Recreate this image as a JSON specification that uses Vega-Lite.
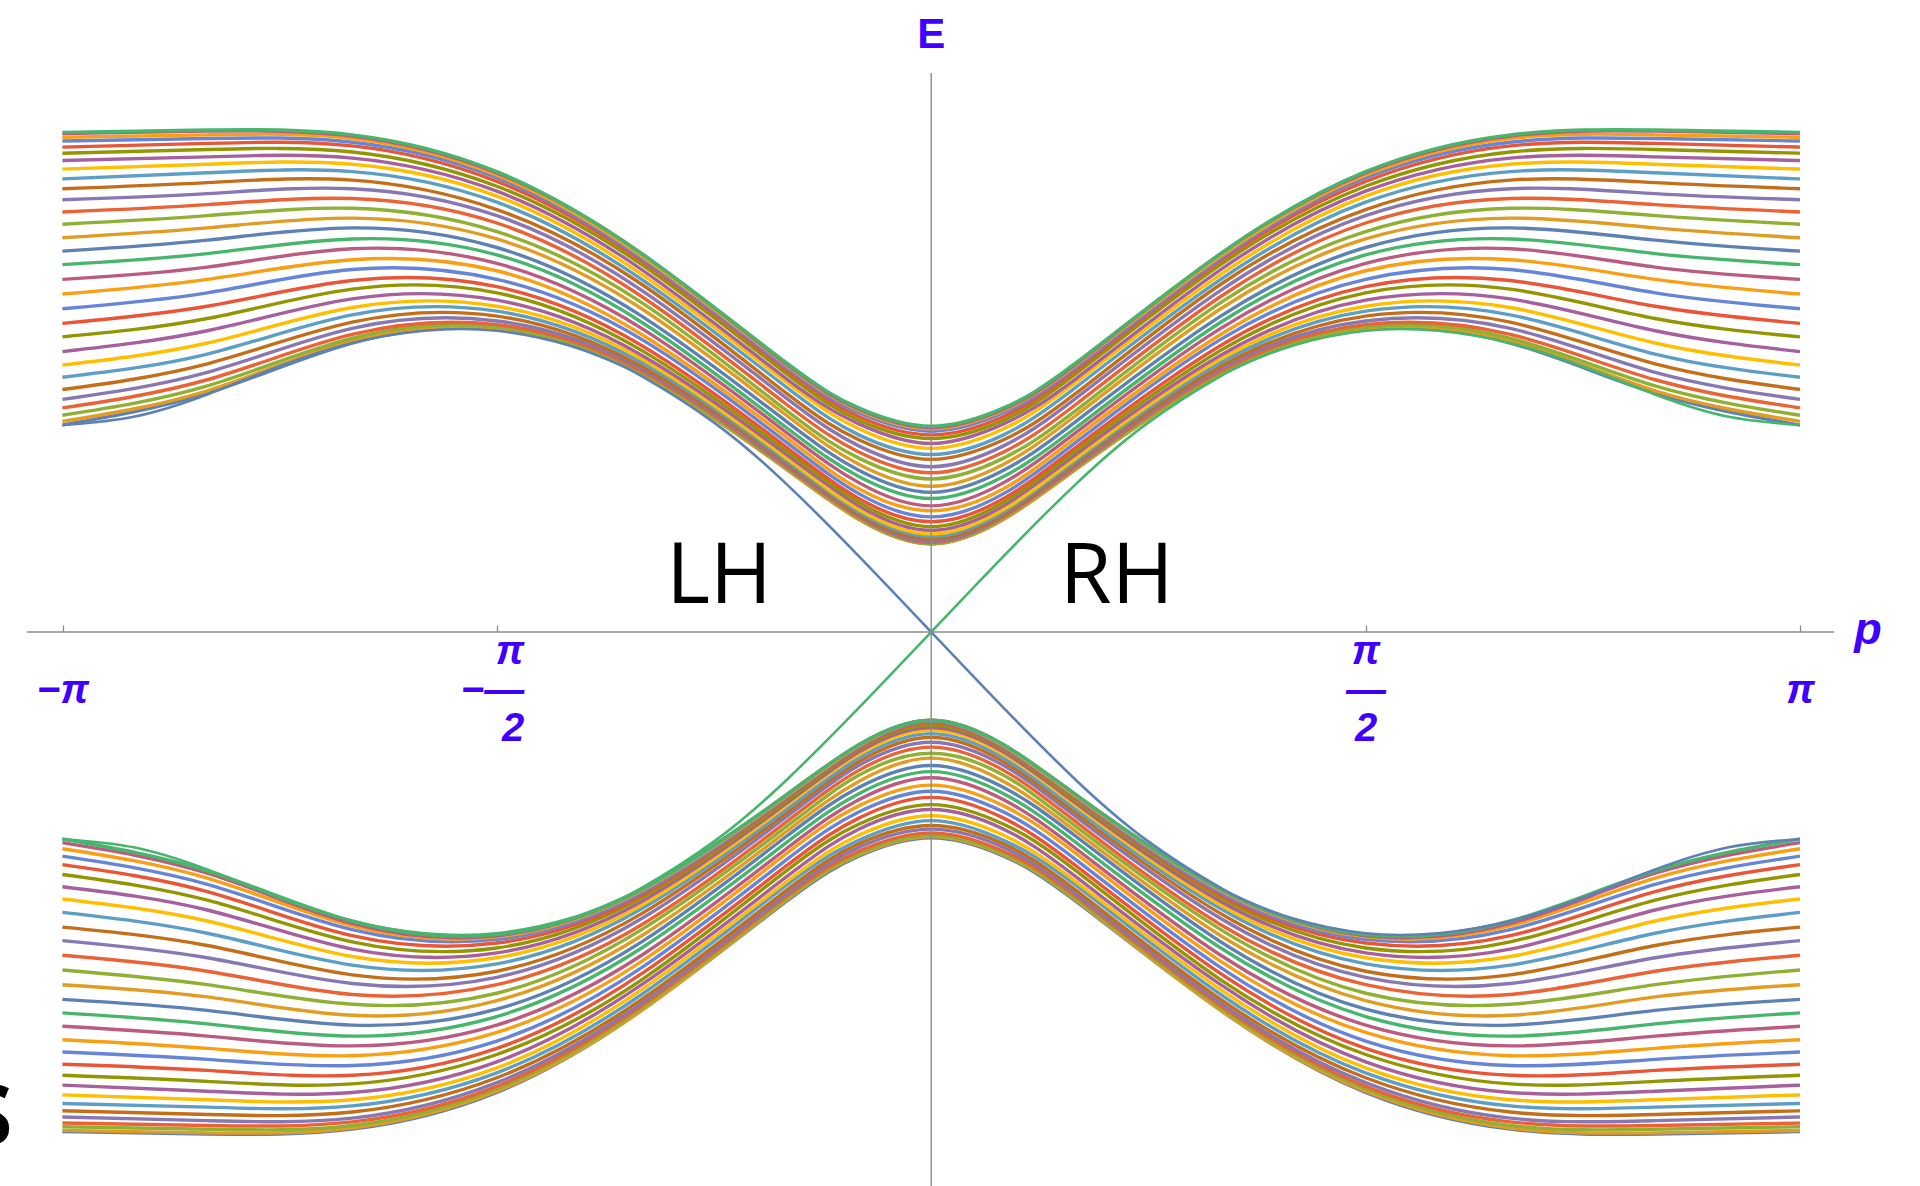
{
"$schema":"https://vega.github.io/schema/vega-lite/v6.json",
"width":1807,"height":1113,"autosize":"none",
"padding":{"left":27,"top":73,"right":86,"bottom":0},
"background":"white",
"config":{"view":{"stroke":null}},
"datasets":{
"upper":[
{"n":1,"p":-3.142,"E":1.69},{"n":1,"p":-2.618,"E":1.95},{"n":1,"p":-2.094,"E":2.36},{"n":1,"p":-1.571,"E":2.47},{"n":1,"p":-1.047,"E":2.1},{"n":1,"p":-0.524,"E":1.33},{"n":1,"p":-0.262,"E":0.92},{"n":1,"p":0,"E":0.72},{"n":1,"p":0.262,"E":0.92},{"n":1,"p":0.524,"E":1.33},{"n":1,"p":1.047,"E":2.1},{"n":1,"p":1.571,"E":2.47},{"n":1,"p":2.094,"E":2.36},{"n":1,"p":2.618,"E":1.95},{"n":1,"p":3.142,"E":1.69},
{"n":2,"p":-3.142,"E":1.72},{"n":2,"p":-2.618,"E":1.97},{"n":2,"p":-2.094,"E":2.38},{"n":2,"p":-1.571,"E":2.48},{"n":2,"p":-1.047,"E":2.1},{"n":2,"p":-0.524,"E":1.33},{"n":2,"p":-0.262,"E":0.92},{"n":2,"p":0,"E":0.72},{"n":2,"p":0.262,"E":0.92},{"n":2,"p":0.524,"E":1.33},{"n":2,"p":1.047,"E":2.1},{"n":2,"p":1.571,"E":2.48},{"n":2,"p":2.094,"E":2.38},{"n":2,"p":2.618,"E":1.97},{"n":2,"p":3.142,"E":1.72},
{"n":3,"p":-3.142,"E":1.77},{"n":3,"p":-2.618,"E":2.01},{"n":3,"p":-2.094,"E":2.4},{"n":3,"p":-1.571,"E":2.49},{"n":3,"p":-1.047,"E":2.11},{"n":3,"p":-0.524,"E":1.34},{"n":3,"p":-0.262,"E":0.93},{"n":3,"p":0,"E":0.72},{"n":3,"p":0.262,"E":0.93},{"n":3,"p":0.524,"E":1.34},{"n":3,"p":1.047,"E":2.11},{"n":3,"p":1.571,"E":2.49},{"n":3,"p":2.094,"E":2.4},{"n":3,"p":2.618,"E":2.01},{"n":3,"p":3.142,"E":1.77},
{"n":4,"p":-3.142,"E":1.83},{"n":4,"p":-2.618,"E":2.06},{"n":4,"p":-2.094,"E":2.43},{"n":4,"p":-1.571,"E":2.51},{"n":4,"p":-1.047,"E":2.13},{"n":4,"p":-0.524,"E":1.35},{"n":4,"p":-0.262,"E":0.94},{"n":4,"p":0,"E":0.73},{"n":4,"p":0.262,"E":0.94},{"n":4,"p":0.524,"E":1.35},{"n":4,"p":1.047,"E":2.13},{"n":4,"p":1.571,"E":2.51},{"n":4,"p":2.094,"E":2.43},{"n":4,"p":2.618,"E":2.06},{"n":4,"p":3.142,"E":1.83},
{"n":5,"p":-3.142,"E":1.9},{"n":5,"p":-2.618,"E":2.12},{"n":5,"p":-2.094,"E":2.48},{"n":5,"p":-1.571,"E":2.54},{"n":5,"p":-1.047,"E":2.15},{"n":5,"p":-0.524,"E":1.36},{"n":5,"p":-0.262,"E":0.95},{"n":5,"p":0,"E":0.74},{"n":5,"p":0.262,"E":0.95},{"n":5,"p":0.524,"E":1.36},{"n":5,"p":1.047,"E":2.15},{"n":5,"p":1.571,"E":2.54},{"n":5,"p":2.094,"E":2.48},{"n":5,"p":2.618,"E":2.12},{"n":5,"p":3.142,"E":1.9},
{"n":6,"p":-3.142,"E":1.98},{"n":6,"p":-2.618,"E":2.19},{"n":6,"p":-2.094,"E":2.53},{"n":6,"p":-1.571,"E":2.58},{"n":6,"p":-1.047,"E":2.17},{"n":6,"p":-0.524,"E":1.38},{"n":6,"p":-0.262,"E":0.96},{"n":6,"p":0,"E":0.76},{"n":6,"p":0.262,"E":0.96},{"n":6,"p":0.524,"E":1.38},{"n":6,"p":1.047,"E":2.17},{"n":6,"p":1.571,"E":2.58},{"n":6,"p":2.094,"E":2.53},{"n":6,"p":2.618,"E":2.19},{"n":6,"p":3.142,"E":1.98},
{"n":7,"p":-3.142,"E":2.08},{"n":7,"p":-2.618,"E":2.27},{"n":7,"p":-2.094,"E":2.59},{"n":7,"p":-1.571,"E":2.62},{"n":7,"p":-1.047,"E":2.2},{"n":7,"p":-0.524,"E":1.4},{"n":7,"p":-0.262,"E":0.98},{"n":7,"p":0,"E":0.78},{"n":7,"p":0.262,"E":0.98},{"n":7,"p":0.524,"E":1.4},{"n":7,"p":1.047,"E":2.2},{"n":7,"p":1.571,"E":2.62},{"n":7,"p":2.094,"E":2.59},{"n":7,"p":2.618,"E":2.27},{"n":7,"p":3.142,"E":2.08},
{"n":8,"p":-3.142,"E":2.18},{"n":8,"p":-2.618,"E":2.36},{"n":8,"p":-2.094,"E":2.65},{"n":8,"p":-1.571,"E":2.66},{"n":8,"p":-1.047,"E":2.23},{"n":8,"p":-0.524,"E":1.42},{"n":8,"p":-0.262,"E":1},{"n":8,"p":0,"E":0.8},{"n":8,"p":0.262,"E":1},{"n":8,"p":0.524,"E":1.42},{"n":8,"p":1.047,"E":2.23},{"n":8,"p":1.571,"E":2.66},{"n":8,"p":2.094,"E":2.65},{"n":8,"p":2.618,"E":2.36},{"n":8,"p":3.142,"E":2.18},
{"n":9,"p":-3.142,"E":2.29},{"n":9,"p":-2.618,"E":2.46},{"n":9,"p":-2.094,"E":2.72},{"n":9,"p":-1.571,"E":2.71},{"n":9,"p":-1.047,"E":2.26},{"n":9,"p":-0.524,"E":1.45},{"n":9,"p":-0.262,"E":1.03},{"n":9,"p":0,"E":0.83},{"n":9,"p":0.262,"E":1.03},{"n":9,"p":0.524,"E":1.45},{"n":9,"p":1.047,"E":2.26},{"n":9,"p":1.571,"E":2.71},{"n":9,"p":2.094,"E":2.72},{"n":9,"p":2.618,"E":2.46},{"n":9,"p":3.142,"E":2.29},
{"n":10,"p":-3.142,"E":2.41},{"n":10,"p":-2.618,"E":2.56},{"n":10,"p":-2.094,"E":2.8},{"n":10,"p":-1.571,"E":2.77},{"n":10,"p":-1.047,"E":2.3},{"n":10,"p":-0.524,"E":1.48},{"n":10,"p":-0.262,"E":1.06},{"n":10,"p":0,"E":0.86},{"n":10,"p":0.262,"E":1.06},{"n":10,"p":0.524,"E":1.48},{"n":10,"p":1.047,"E":2.3},{"n":10,"p":1.571,"E":2.77},{"n":10,"p":2.094,"E":2.8},{"n":10,"p":2.618,"E":2.56},{"n":10,"p":3.142,"E":2.41},
{"n":11,"p":-3.142,"E":2.52},{"n":11,"p":-2.618,"E":2.66},{"n":11,"p":-2.094,"E":2.87},{"n":11,"p":-1.571,"E":2.82},{"n":11,"p":-1.047,"E":2.34},{"n":11,"p":-0.524,"E":1.51},{"n":11,"p":-0.262,"E":1.09},{"n":11,"p":0,"E":0.9},{"n":11,"p":0.262,"E":1.09},{"n":11,"p":0.524,"E":1.51},{"n":11,"p":1.047,"E":2.34},{"n":11,"p":1.571,"E":2.82},{"n":11,"p":2.094,"E":2.87},{"n":11,"p":2.618,"E":2.66},{"n":11,"p":3.142,"E":2.52},
{"n":12,"p":-3.142,"E":2.64},{"n":12,"p":-2.618,"E":2.77},{"n":12,"p":-2.094,"E":2.96},{"n":12,"p":-1.571,"E":2.88},{"n":12,"p":-1.047,"E":2.39},{"n":12,"p":-0.524,"E":1.55},{"n":12,"p":-0.262,"E":1.13},{"n":12,"p":0,"E":0.94},{"n":12,"p":0.262,"E":1.13},{"n":12,"p":0.524,"E":1.55},{"n":12,"p":1.047,"E":2.39},{"n":12,"p":1.571,"E":2.88},{"n":12,"p":2.094,"E":2.96},{"n":12,"p":2.618,"E":2.77},{"n":12,"p":3.142,"E":2.64},
{"n":13,"p":-3.142,"E":2.76},{"n":13,"p":-2.618,"E":2.88},{"n":13,"p":-2.094,"E":3.04},{"n":13,"p":-1.571,"E":2.95},{"n":13,"p":-1.047,"E":2.43},{"n":13,"p":-0.524,"E":1.59},{"n":13,"p":-0.262,"E":1.17},{"n":13,"p":0,"E":0.99},{"n":13,"p":0.262,"E":1.17},{"n":13,"p":0.524,"E":1.59},{"n":13,"p":1.047,"E":2.43},{"n":13,"p":1.571,"E":2.95},{"n":13,"p":2.094,"E":3.04},{"n":13,"p":2.618,"E":2.88},{"n":13,"p":3.142,"E":2.76},
{"n":14,"p":-3.142,"E":2.88},{"n":14,"p":-2.618,"E":2.98},{"n":14,"p":-2.094,"E":3.13},{"n":14,"p":-1.571,"E":3.01},{"n":14,"p":-1.047,"E":2.48},{"n":14,"p":-0.524,"E":1.63},{"n":14,"p":-0.262,"E":1.22},{"n":14,"p":0,"E":1.03},{"n":14,"p":0.262,"E":1.22},{"n":14,"p":0.524,"E":1.63},{"n":14,"p":1.047,"E":2.48},{"n":14,"p":1.571,"E":3.01},{"n":14,"p":2.094,"E":3.13},{"n":14,"p":2.618,"E":2.98},{"n":14,"p":3.142,"E":2.88},
{"n":15,"p":-3.142,"E":3},{"n":15,"p":-2.618,"E":3.09},{"n":15,"p":-2.094,"E":3.21},{"n":15,"p":-1.571,"E":3.08},{"n":15,"p":-1.047,"E":2.53},{"n":15,"p":-0.524,"E":1.67},{"n":15,"p":-0.262,"E":1.27},{"n":15,"p":0,"E":1.09},{"n":15,"p":0.262,"E":1.27},{"n":15,"p":0.524,"E":1.67},{"n":15,"p":1.047,"E":2.53},{"n":15,"p":1.571,"E":3.08},{"n":15,"p":2.094,"E":3.21},{"n":15,"p":2.618,"E":3.09},{"n":15,"p":3.142,"E":3},
{"n":16,"p":-3.142,"E":3.11},{"n":16,"p":-2.618,"E":3.2},{"n":16,"p":-2.094,"E":3.3},{"n":16,"p":-1.571,"E":3.14},{"n":16,"p":-1.047,"E":2.58},{"n":16,"p":-0.524,"E":1.72},{"n":16,"p":-0.262,"E":1.32},{"n":16,"p":0,"E":1.14},{"n":16,"p":0.262,"E":1.32},{"n":16,"p":0.524,"E":1.72},{"n":16,"p":1.047,"E":2.58},{"n":16,"p":1.571,"E":3.14},{"n":16,"p":2.094,"E":3.3},{"n":16,"p":2.618,"E":3.2},{"n":16,"p":3.142,"E":3.11},
{"n":17,"p":-3.142,"E":3.22},{"n":17,"p":-2.618,"E":3.3},{"n":17,"p":-2.094,"E":3.38},{"n":17,"p":-1.571,"E":3.21},{"n":17,"p":-1.047,"E":2.64},{"n":17,"p":-0.524,"E":1.77},{"n":17,"p":-0.262,"E":1.37},{"n":17,"p":0,"E":1.19},{"n":17,"p":0.262,"E":1.37},{"n":17,"p":0.524,"E":1.77},{"n":17,"p":1.047,"E":2.64},{"n":17,"p":1.571,"E":3.21},{"n":17,"p":2.094,"E":3.38},{"n":17,"p":2.618,"E":3.3},{"n":17,"p":3.142,"E":3.22},
{"n":18,"p":-3.142,"E":3.33},{"n":18,"p":-2.618,"E":3.4},{"n":18,"p":-2.094,"E":3.46},{"n":18,"p":-1.571,"E":3.27},{"n":18,"p":-1.047,"E":2.69},{"n":18,"p":-0.524,"E":1.81},{"n":18,"p":-0.262,"E":1.42},{"n":18,"p":0,"E":1.25},{"n":18,"p":0.262,"E":1.42},{"n":18,"p":0.524,"E":1.81},{"n":18,"p":1.047,"E":2.69},{"n":18,"p":1.571,"E":3.27},{"n":18,"p":2.094,"E":3.46},{"n":18,"p":2.618,"E":3.4},{"n":18,"p":3.142,"E":3.33},
{"n":19,"p":-3.142,"E":3.43},{"n":19,"p":-2.618,"E":3.49},{"n":19,"p":-2.094,"E":3.54},{"n":19,"p":-1.571,"E":3.34},{"n":19,"p":-1.047,"E":2.74},{"n":19,"p":-0.524,"E":1.86},{"n":19,"p":-0.262,"E":1.47},{"n":19,"p":0,"E":1.3},{"n":19,"p":0.262,"E":1.47},{"n":19,"p":0.524,"E":1.86},{"n":19,"p":1.047,"E":2.74},{"n":19,"p":1.571,"E":3.34},{"n":19,"p":2.094,"E":3.54},{"n":19,"p":2.618,"E":3.49},{"n":19,"p":3.142,"E":3.43},
{"n":20,"p":-3.142,"E":3.53},{"n":20,"p":-2.618,"E":3.58},{"n":20,"p":-2.094,"E":3.62},{"n":20,"p":-1.571,"E":3.4},{"n":20,"p":-1.047,"E":2.79},{"n":20,"p":-0.524,"E":1.91},{"n":20,"p":-0.262,"E":1.52},{"n":20,"p":0,"E":1.35},{"n":20,"p":0.262,"E":1.52},{"n":20,"p":0.524,"E":1.91},{"n":20,"p":1.047,"E":2.79},{"n":20,"p":1.571,"E":3.4},{"n":20,"p":2.094,"E":3.62},{"n":20,"p":2.618,"E":3.58},{"n":20,"p":3.142,"E":3.53},
{"n":21,"p":-3.142,"E":3.62},{"n":21,"p":-2.618,"E":3.67},{"n":21,"p":-2.094,"E":3.69},{"n":21,"p":-1.571,"E":3.45},{"n":21,"p":-1.047,"E":2.84},{"n":21,"p":-0.524,"E":1.95},{"n":21,"p":-0.262,"E":1.57},{"n":21,"p":0,"E":1.41},{"n":21,"p":0.262,"E":1.57},{"n":21,"p":0.524,"E":1.95},{"n":21,"p":1.047,"E":2.84},{"n":21,"p":1.571,"E":3.45},{"n":21,"p":2.094,"E":3.69},{"n":21,"p":2.618,"E":3.67},{"n":21,"p":3.142,"E":3.62},
{"n":22,"p":-3.142,"E":3.7},{"n":22,"p":-2.618,"E":3.75},{"n":22,"p":-2.094,"E":3.76},{"n":22,"p":-1.571,"E":3.51},{"n":22,"p":-1.047,"E":2.88},{"n":22,"p":-0.524,"E":2},{"n":22,"p":-0.262,"E":1.61},{"n":22,"p":0,"E":1.45},{"n":22,"p":0.262,"E":1.61},{"n":22,"p":0.524,"E":2},{"n":22,"p":1.047,"E":2.88},{"n":22,"p":1.571,"E":3.51},{"n":22,"p":2.094,"E":3.76},{"n":22,"p":2.618,"E":3.75},{"n":22,"p":3.142,"E":3.7},
{"n":23,"p":-3.142,"E":3.78},{"n":23,"p":-2.618,"E":3.82},{"n":23,"p":-2.094,"E":3.82},{"n":23,"p":-1.571,"E":3.56},{"n":23,"p":-1.047,"E":2.92},{"n":23,"p":-0.524,"E":2.04},{"n":23,"p":-0.262,"E":1.66},{"n":23,"p":0,"E":1.5},{"n":23,"p":0.262,"E":1.66},{"n":23,"p":0.524,"E":2.04},{"n":23,"p":1.047,"E":2.92},{"n":23,"p":1.571,"E":3.56},{"n":23,"p":2.094,"E":3.82},{"n":23,"p":2.618,"E":3.82},{"n":23,"p":3.142,"E":3.78},
{"n":24,"p":-3.142,"E":3.85},{"n":24,"p":-2.618,"E":3.88},{"n":24,"p":-2.094,"E":3.87},{"n":24,"p":-1.571,"E":3.6},{"n":24,"p":-1.047,"E":2.96},{"n":24,"p":-0.524,"E":2.07},{"n":24,"p":-0.262,"E":1.7},{"n":24,"p":0,"E":1.54},{"n":24,"p":0.262,"E":1.7},{"n":24,"p":0.524,"E":2.07},{"n":24,"p":1.047,"E":2.96},{"n":24,"p":1.571,"E":3.6},{"n":24,"p":2.094,"E":3.87},{"n":24,"p":2.618,"E":3.88},{"n":24,"p":3.142,"E":3.85},
{"n":25,"p":-3.142,"E":3.91},{"n":25,"p":-2.618,"E":3.94},{"n":25,"p":-2.094,"E":3.92},{"n":25,"p":-1.571,"E":3.64},{"n":25,"p":-1.047,"E":3},{"n":25,"p":-0.524,"E":2.11},{"n":25,"p":-0.262,"E":1.73},{"n":25,"p":0,"E":1.58},{"n":25,"p":0.262,"E":1.73},{"n":25,"p":0.524,"E":2.11},{"n":25,"p":1.047,"E":3},{"n":25,"p":1.571,"E":3.64},{"n":25,"p":2.094,"E":3.92},{"n":25,"p":2.618,"E":3.94},{"n":25,"p":3.142,"E":3.91},
{"n":26,"p":-3.142,"E":3.96},{"n":26,"p":-2.618,"E":3.99},{"n":26,"p":-2.094,"E":3.97},{"n":26,"p":-1.571,"E":3.68},{"n":26,"p":-1.047,"E":3.03},{"n":26,"p":-0.524,"E":2.14},{"n":26,"p":-0.262,"E":1.76},{"n":26,"p":0,"E":1.61},{"n":26,"p":0.262,"E":1.76},{"n":26,"p":0.524,"E":2.14},{"n":26,"p":1.047,"E":3.03},{"n":26,"p":1.571,"E":3.68},{"n":26,"p":2.094,"E":3.97},{"n":26,"p":2.618,"E":3.99},{"n":26,"p":3.142,"E":3.96},
{"n":27,"p":-3.142,"E":4.01},{"n":27,"p":-2.618,"E":4.03},{"n":27,"p":-2.094,"E":4},{"n":27,"p":-1.571,"E":3.71},{"n":27,"p":-1.047,"E":3.05},{"n":27,"p":-0.524,"E":2.16},{"n":27,"p":-0.262,"E":1.79},{"n":27,"p":0,"E":1.64},{"n":27,"p":0.262,"E":1.79},{"n":27,"p":0.524,"E":2.16},{"n":27,"p":1.047,"E":3.05},{"n":27,"p":1.571,"E":3.71},{"n":27,"p":2.094,"E":4},{"n":27,"p":2.618,"E":4.03},{"n":27,"p":3.142,"E":4.01},
{"n":28,"p":-3.142,"E":4.04},{"n":28,"p":-2.618,"E":4.06},{"n":28,"p":-2.094,"E":4.03},{"n":28,"p":-1.571,"E":3.73},{"n":28,"p":-1.047,"E":3.07},{"n":28,"p":-0.524,"E":2.18},{"n":28,"p":-0.262,"E":1.81},{"n":28,"p":0,"E":1.66},{"n":28,"p":0.262,"E":1.81},{"n":28,"p":0.524,"E":2.18},{"n":28,"p":1.047,"E":3.07},{"n":28,"p":1.571,"E":3.73},{"n":28,"p":2.094,"E":4.03},{"n":28,"p":2.618,"E":4.06},{"n":28,"p":3.142,"E":4.04},
{"n":29,"p":-3.142,"E":4.07},{"n":29,"p":-2.618,"E":4.09},{"n":29,"p":-2.094,"E":4.05},{"n":29,"p":-1.571,"E":3.75},{"n":29,"p":-1.047,"E":3.09},{"n":29,"p":-0.524,"E":2.19},{"n":29,"p":-0.262,"E":1.82},{"n":29,"p":0,"E":1.67},{"n":29,"p":0.262,"E":1.82},{"n":29,"p":0.524,"E":2.19},{"n":29,"p":1.047,"E":3.09},{"n":29,"p":1.571,"E":3.75},{"n":29,"p":2.094,"E":4.05},{"n":29,"p":2.618,"E":4.09},{"n":29,"p":3.142,"E":4.07},
{"n":30,"p":-3.142,"E":4.08},{"n":30,"p":-2.618,"E":4.1},{"n":30,"p":-2.094,"E":4.06},{"n":30,"p":-1.571,"E":3.76},{"n":30,"p":-1.047,"E":3.09},{"n":30,"p":-0.524,"E":2.2},{"n":30,"p":-0.262,"E":1.83},{"n":30,"p":0,"E":1.68},{"n":30,"p":0.262,"E":1.83},{"n":30,"p":0.524,"E":2.2},{"n":30,"p":1.047,"E":3.09},{"n":30,"p":1.571,"E":3.76},{"n":30,"p":2.094,"E":4.06},{"n":30,"p":2.618,"E":4.1},{"n":30,"p":3.142,"E":4.08}
],
"lower":[
{"n":1,"p":-3.142,"E":-4.08},{"n":1,"p":-2.618,"E":-4.1},{"n":1,"p":-2.094,"E":-4.06},{"n":1,"p":-1.571,"E":-3.76},{"n":1,"p":-1.047,"E":-3.09},{"n":1,"p":-0.524,"E":-2.2},{"n":1,"p":-0.262,"E":-1.83},{"n":1,"p":0,"E":-1.68},{"n":1,"p":0.262,"E":-1.83},{"n":1,"p":0.524,"E":-2.2},{"n":1,"p":1.047,"E":-3.09},{"n":1,"p":1.571,"E":-3.76},{"n":1,"p":2.094,"E":-4.06},{"n":1,"p":2.618,"E":-4.1},{"n":1,"p":3.142,"E":-4.08},
{"n":2,"p":-3.142,"E":-4.07},{"n":2,"p":-2.618,"E":-4.09},{"n":2,"p":-2.094,"E":-4.05},{"n":2,"p":-1.571,"E":-3.75},{"n":2,"p":-1.047,"E":-3.09},{"n":2,"p":-0.524,"E":-2.19},{"n":2,"p":-0.262,"E":-1.82},{"n":2,"p":0,"E":-1.67},{"n":2,"p":0.262,"E":-1.82},{"n":2,"p":0.524,"E":-2.19},{"n":2,"p":1.047,"E":-3.09},{"n":2,"p":1.571,"E":-3.75},{"n":2,"p":2.094,"E":-4.05},{"n":2,"p":2.618,"E":-4.09},{"n":2,"p":3.142,"E":-4.07},
{"n":3,"p":-3.142,"E":-4.04},{"n":3,"p":-2.618,"E":-4.06},{"n":3,"p":-2.094,"E":-4.03},{"n":3,"p":-1.571,"E":-3.73},{"n":3,"p":-1.047,"E":-3.07},{"n":3,"p":-0.524,"E":-2.18},{"n":3,"p":-0.262,"E":-1.81},{"n":3,"p":0,"E":-1.66},{"n":3,"p":0.262,"E":-1.81},{"n":3,"p":0.524,"E":-2.18},{"n":3,"p":1.047,"E":-3.07},{"n":3,"p":1.571,"E":-3.73},{"n":3,"p":2.094,"E":-4.03},{"n":3,"p":2.618,"E":-4.06},{"n":3,"p":3.142,"E":-4.04},
{"n":4,"p":-3.142,"E":-4.01},{"n":4,"p":-2.618,"E":-4.03},{"n":4,"p":-2.094,"E":-4},{"n":4,"p":-1.571,"E":-3.71},{"n":4,"p":-1.047,"E":-3.05},{"n":4,"p":-0.524,"E":-2.16},{"n":4,"p":-0.262,"E":-1.79},{"n":4,"p":0,"E":-1.64},{"n":4,"p":0.262,"E":-1.79},{"n":4,"p":0.524,"E":-2.16},{"n":4,"p":1.047,"E":-3.05},{"n":4,"p":1.571,"E":-3.71},{"n":4,"p":2.094,"E":-4},{"n":4,"p":2.618,"E":-4.03},{"n":4,"p":3.142,"E":-4.01},
{"n":5,"p":-3.142,"E":-3.96},{"n":5,"p":-2.618,"E":-3.99},{"n":5,"p":-2.094,"E":-3.97},{"n":5,"p":-1.571,"E":-3.68},{"n":5,"p":-1.047,"E":-3.03},{"n":5,"p":-0.524,"E":-2.14},{"n":5,"p":-0.262,"E":-1.76},{"n":5,"p":0,"E":-1.61},{"n":5,"p":0.262,"E":-1.76},{"n":5,"p":0.524,"E":-2.14},{"n":5,"p":1.047,"E":-3.03},{"n":5,"p":1.571,"E":-3.68},{"n":5,"p":2.094,"E":-3.97},{"n":5,"p":2.618,"E":-3.99},{"n":5,"p":3.142,"E":-3.96},
{"n":6,"p":-3.142,"E":-3.91},{"n":6,"p":-2.618,"E":-3.94},{"n":6,"p":-2.094,"E":-3.92},{"n":6,"p":-1.571,"E":-3.64},{"n":6,"p":-1.047,"E":-3},{"n":6,"p":-0.524,"E":-2.11},{"n":6,"p":-0.262,"E":-1.73},{"n":6,"p":0,"E":-1.58},{"n":6,"p":0.262,"E":-1.73},{"n":6,"p":0.524,"E":-2.11},{"n":6,"p":1.047,"E":-3},{"n":6,"p":1.571,"E":-3.64},{"n":6,"p":2.094,"E":-3.92},{"n":6,"p":2.618,"E":-3.94},{"n":6,"p":3.142,"E":-3.91},
{"n":7,"p":-3.142,"E":-3.85},{"n":7,"p":-2.618,"E":-3.88},{"n":7,"p":-2.094,"E":-3.87},{"n":7,"p":-1.571,"E":-3.6},{"n":7,"p":-1.047,"E":-2.96},{"n":7,"p":-0.524,"E":-2.07},{"n":7,"p":-0.262,"E":-1.7},{"n":7,"p":0,"E":-1.54},{"n":7,"p":0.262,"E":-1.7},{"n":7,"p":0.524,"E":-2.07},{"n":7,"p":1.047,"E":-2.96},{"n":7,"p":1.571,"E":-3.6},{"n":7,"p":2.094,"E":-3.87},{"n":7,"p":2.618,"E":-3.88},{"n":7,"p":3.142,"E":-3.85},
{"n":8,"p":-3.142,"E":-3.78},{"n":8,"p":-2.618,"E":-3.82},{"n":8,"p":-2.094,"E":-3.82},{"n":8,"p":-1.571,"E":-3.56},{"n":8,"p":-1.047,"E":-2.92},{"n":8,"p":-0.524,"E":-2.04},{"n":8,"p":-0.262,"E":-1.66},{"n":8,"p":0,"E":-1.5},{"n":8,"p":0.262,"E":-1.66},{"n":8,"p":0.524,"E":-2.04},{"n":8,"p":1.047,"E":-2.92},{"n":8,"p":1.571,"E":-3.56},{"n":8,"p":2.094,"E":-3.82},{"n":8,"p":2.618,"E":-3.82},{"n":8,"p":3.142,"E":-3.78},
{"n":9,"p":-3.142,"E":-3.7},{"n":9,"p":-2.618,"E":-3.75},{"n":9,"p":-2.094,"E":-3.76},{"n":9,"p":-1.571,"E":-3.51},{"n":9,"p":-1.047,"E":-2.88},{"n":9,"p":-0.524,"E":-2},{"n":9,"p":-0.262,"E":-1.61},{"n":9,"p":0,"E":-1.45},{"n":9,"p":0.262,"E":-1.61},{"n":9,"p":0.524,"E":-2},{"n":9,"p":1.047,"E":-2.88},{"n":9,"p":1.571,"E":-3.51},{"n":9,"p":2.094,"E":-3.76},{"n":9,"p":2.618,"E":-3.75},{"n":9,"p":3.142,"E":-3.7},
{"n":10,"p":-3.142,"E":-3.62},{"n":10,"p":-2.618,"E":-3.67},{"n":10,"p":-2.094,"E":-3.69},{"n":10,"p":-1.571,"E":-3.45},{"n":10,"p":-1.047,"E":-2.84},{"n":10,"p":-0.524,"E":-1.95},{"n":10,"p":-0.262,"E":-1.57},{"n":10,"p":0,"E":-1.41},{"n":10,"p":0.262,"E":-1.57},{"n":10,"p":0.524,"E":-1.95},{"n":10,"p":1.047,"E":-2.84},{"n":10,"p":1.571,"E":-3.45},{"n":10,"p":2.094,"E":-3.69},{"n":10,"p":2.618,"E":-3.67},{"n":10,"p":3.142,"E":-3.62},
{"n":11,"p":-3.142,"E":-3.53},{"n":11,"p":-2.618,"E":-3.58},{"n":11,"p":-2.094,"E":-3.62},{"n":11,"p":-1.571,"E":-3.4},{"n":11,"p":-1.047,"E":-2.79},{"n":11,"p":-0.524,"E":-1.91},{"n":11,"p":-0.262,"E":-1.52},{"n":11,"p":0,"E":-1.35},{"n":11,"p":0.262,"E":-1.52},{"n":11,"p":0.524,"E":-1.91},{"n":11,"p":1.047,"E":-2.79},{"n":11,"p":1.571,"E":-3.4},{"n":11,"p":2.094,"E":-3.62},{"n":11,"p":2.618,"E":-3.58},{"n":11,"p":3.142,"E":-3.53},
{"n":12,"p":-3.142,"E":-3.43},{"n":12,"p":-2.618,"E":-3.49},{"n":12,"p":-2.094,"E":-3.54},{"n":12,"p":-1.571,"E":-3.34},{"n":12,"p":-1.047,"E":-2.74},{"n":12,"p":-0.524,"E":-1.86},{"n":12,"p":-0.262,"E":-1.47},{"n":12,"p":0,"E":-1.3},{"n":12,"p":0.262,"E":-1.47},{"n":12,"p":0.524,"E":-1.86},{"n":12,"p":1.047,"E":-2.74},{"n":12,"p":1.571,"E":-3.34},{"n":12,"p":2.094,"E":-3.54},{"n":12,"p":2.618,"E":-3.49},{"n":12,"p":3.142,"E":-3.43},
{"n":13,"p":-3.142,"E":-3.33},{"n":13,"p":-2.618,"E":-3.4},{"n":13,"p":-2.094,"E":-3.46},{"n":13,"p":-1.571,"E":-3.27},{"n":13,"p":-1.047,"E":-2.69},{"n":13,"p":-0.524,"E":-1.81},{"n":13,"p":-0.262,"E":-1.42},{"n":13,"p":0,"E":-1.25},{"n":13,"p":0.262,"E":-1.42},{"n":13,"p":0.524,"E":-1.81},{"n":13,"p":1.047,"E":-2.69},{"n":13,"p":1.571,"E":-3.27},{"n":13,"p":2.094,"E":-3.46},{"n":13,"p":2.618,"E":-3.4},{"n":13,"p":3.142,"E":-3.33},
{"n":14,"p":-3.142,"E":-3.22},{"n":14,"p":-2.618,"E":-3.3},{"n":14,"p":-2.094,"E":-3.38},{"n":14,"p":-1.571,"E":-3.21},{"n":14,"p":-1.047,"E":-2.64},{"n":14,"p":-0.524,"E":-1.77},{"n":14,"p":-0.262,"E":-1.37},{"n":14,"p":0,"E":-1.19},{"n":14,"p":0.262,"E":-1.37},{"n":14,"p":0.524,"E":-1.77},{"n":14,"p":1.047,"E":-2.64},{"n":14,"p":1.571,"E":-3.21},{"n":14,"p":2.094,"E":-3.38},{"n":14,"p":2.618,"E":-3.3},{"n":14,"p":3.142,"E":-3.22},
{"n":15,"p":-3.142,"E":-3.11},{"n":15,"p":-2.618,"E":-3.2},{"n":15,"p":-2.094,"E":-3.3},{"n":15,"p":-1.571,"E":-3.14},{"n":15,"p":-1.047,"E":-2.58},{"n":15,"p":-0.524,"E":-1.72},{"n":15,"p":-0.262,"E":-1.32},{"n":15,"p":0,"E":-1.14},{"n":15,"p":0.262,"E":-1.32},{"n":15,"p":0.524,"E":-1.72},{"n":15,"p":1.047,"E":-2.58},{"n":15,"p":1.571,"E":-3.14},{"n":15,"p":2.094,"E":-3.3},{"n":15,"p":2.618,"E":-3.2},{"n":15,"p":3.142,"E":-3.11},
{"n":16,"p":-3.142,"E":-3},{"n":16,"p":-2.618,"E":-3.09},{"n":16,"p":-2.094,"E":-3.21},{"n":16,"p":-1.571,"E":-3.08},{"n":16,"p":-1.047,"E":-2.53},{"n":16,"p":-0.524,"E":-1.67},{"n":16,"p":-0.262,"E":-1.27},{"n":16,"p":0,"E":-1.09},{"n":16,"p":0.262,"E":-1.27},{"n":16,"p":0.524,"E":-1.67},{"n":16,"p":1.047,"E":-2.53},{"n":16,"p":1.571,"E":-3.08},{"n":16,"p":2.094,"E":-3.21},{"n":16,"p":2.618,"E":-3.09},{"n":16,"p":3.142,"E":-3},
{"n":17,"p":-3.142,"E":-2.88},{"n":17,"p":-2.618,"E":-2.98},{"n":17,"p":-2.094,"E":-3.13},{"n":17,"p":-1.571,"E":-3.01},{"n":17,"p":-1.047,"E":-2.48},{"n":17,"p":-0.524,"E":-1.63},{"n":17,"p":-0.262,"E":-1.22},{"n":17,"p":0,"E":-1.03},{"n":17,"p":0.262,"E":-1.22},{"n":17,"p":0.524,"E":-1.63},{"n":17,"p":1.047,"E":-2.48},{"n":17,"p":1.571,"E":-3.01},{"n":17,"p":2.094,"E":-3.13},{"n":17,"p":2.618,"E":-2.98},{"n":17,"p":3.142,"E":-2.88},
{"n":18,"p":-3.142,"E":-2.76},{"n":18,"p":-2.618,"E":-2.88},{"n":18,"p":-2.094,"E":-3.04},{"n":18,"p":-1.571,"E":-2.95},{"n":18,"p":-1.047,"E":-2.43},{"n":18,"p":-0.524,"E":-1.59},{"n":18,"p":-0.262,"E":-1.17},{"n":18,"p":0,"E":-0.99},{"n":18,"p":0.262,"E":-1.17},{"n":18,"p":0.524,"E":-1.59},{"n":18,"p":1.047,"E":-2.43},{"n":18,"p":1.571,"E":-2.95},{"n":18,"p":2.094,"E":-3.04},{"n":18,"p":2.618,"E":-2.88},{"n":18,"p":3.142,"E":-2.76},
{"n":19,"p":-3.142,"E":-2.64},{"n":19,"p":-2.618,"E":-2.77},{"n":19,"p":-2.094,"E":-2.96},{"n":19,"p":-1.571,"E":-2.88},{"n":19,"p":-1.047,"E":-2.39},{"n":19,"p":-0.524,"E":-1.55},{"n":19,"p":-0.262,"E":-1.13},{"n":19,"p":0,"E":-0.94},{"n":19,"p":0.262,"E":-1.13},{"n":19,"p":0.524,"E":-1.55},{"n":19,"p":1.047,"E":-2.39},{"n":19,"p":1.571,"E":-2.88},{"n":19,"p":2.094,"E":-2.96},{"n":19,"p":2.618,"E":-2.77},{"n":19,"p":3.142,"E":-2.64},
{"n":20,"p":-3.142,"E":-2.52},{"n":20,"p":-2.618,"E":-2.66},{"n":20,"p":-2.094,"E":-2.87},{"n":20,"p":-1.571,"E":-2.82},{"n":20,"p":-1.047,"E":-2.34},{"n":20,"p":-0.524,"E":-1.51},{"n":20,"p":-0.262,"E":-1.09},{"n":20,"p":0,"E":-0.9},{"n":20,"p":0.262,"E":-1.09},{"n":20,"p":0.524,"E":-1.51},{"n":20,"p":1.047,"E":-2.34},{"n":20,"p":1.571,"E":-2.82},{"n":20,"p":2.094,"E":-2.87},{"n":20,"p":2.618,"E":-2.66},{"n":20,"p":3.142,"E":-2.52},
{"n":21,"p":-3.142,"E":-2.41},{"n":21,"p":-2.618,"E":-2.56},{"n":21,"p":-2.094,"E":-2.8},{"n":21,"p":-1.571,"E":-2.77},{"n":21,"p":-1.047,"E":-2.3},{"n":21,"p":-0.524,"E":-1.48},{"n":21,"p":-0.262,"E":-1.06},{"n":21,"p":0,"E":-0.86},{"n":21,"p":0.262,"E":-1.06},{"n":21,"p":0.524,"E":-1.48},{"n":21,"p":1.047,"E":-2.3},{"n":21,"p":1.571,"E":-2.77},{"n":21,"p":2.094,"E":-2.8},{"n":21,"p":2.618,"E":-2.56},{"n":21,"p":3.142,"E":-2.41},
{"n":22,"p":-3.142,"E":-2.29},{"n":22,"p":-2.618,"E":-2.46},{"n":22,"p":-2.094,"E":-2.72},{"n":22,"p":-1.571,"E":-2.71},{"n":22,"p":-1.047,"E":-2.26},{"n":22,"p":-0.524,"E":-1.45},{"n":22,"p":-0.262,"E":-1.03},{"n":22,"p":0,"E":-0.83},{"n":22,"p":0.262,"E":-1.03},{"n":22,"p":0.524,"E":-1.45},{"n":22,"p":1.047,"E":-2.26},{"n":22,"p":1.571,"E":-2.71},{"n":22,"p":2.094,"E":-2.72},{"n":22,"p":2.618,"E":-2.46},{"n":22,"p":3.142,"E":-2.29},
{"n":23,"p":-3.142,"E":-2.18},{"n":23,"p":-2.618,"E":-2.36},{"n":23,"p":-2.094,"E":-2.65},{"n":23,"p":-1.571,"E":-2.66},{"n":23,"p":-1.047,"E":-2.23},{"n":23,"p":-0.524,"E":-1.42},{"n":23,"p":-0.262,"E":-1},{"n":23,"p":0,"E":-0.8},{"n":23,"p":0.262,"E":-1},{"n":23,"p":0.524,"E":-1.42},{"n":23,"p":1.047,"E":-2.23},{"n":23,"p":1.571,"E":-2.66},{"n":23,"p":2.094,"E":-2.65},{"n":23,"p":2.618,"E":-2.36},{"n":23,"p":3.142,"E":-2.18},
{"n":24,"p":-3.142,"E":-2.08},{"n":24,"p":-2.618,"E":-2.27},{"n":24,"p":-2.094,"E":-2.59},{"n":24,"p":-1.571,"E":-2.62},{"n":24,"p":-1.047,"E":-2.2},{"n":24,"p":-0.524,"E":-1.4},{"n":24,"p":-0.262,"E":-0.98},{"n":24,"p":0,"E":-0.78},{"n":24,"p":0.262,"E":-0.98},{"n":24,"p":0.524,"E":-1.4},{"n":24,"p":1.047,"E":-2.2},{"n":24,"p":1.571,"E":-2.62},{"n":24,"p":2.094,"E":-2.59},{"n":24,"p":2.618,"E":-2.27},{"n":24,"p":3.142,"E":-2.08},
{"n":25,"p":-3.142,"E":-1.98},{"n":25,"p":-2.618,"E":-2.19},{"n":25,"p":-2.094,"E":-2.53},{"n":25,"p":-1.571,"E":-2.58},{"n":25,"p":-1.047,"E":-2.17},{"n":25,"p":-0.524,"E":-1.38},{"n":25,"p":-0.262,"E":-0.96},{"n":25,"p":0,"E":-0.76},{"n":25,"p":0.262,"E":-0.96},{"n":25,"p":0.524,"E":-1.38},{"n":25,"p":1.047,"E":-2.17},{"n":25,"p":1.571,"E":-2.58},{"n":25,"p":2.094,"E":-2.53},{"n":25,"p":2.618,"E":-2.19},{"n":25,"p":3.142,"E":-1.98},
{"n":26,"p":-3.142,"E":-1.9},{"n":26,"p":-2.618,"E":-2.12},{"n":26,"p":-2.094,"E":-2.48},{"n":26,"p":-1.571,"E":-2.54},{"n":26,"p":-1.047,"E":-2.15},{"n":26,"p":-0.524,"E":-1.36},{"n":26,"p":-0.262,"E":-0.95},{"n":26,"p":0,"E":-0.74},{"n":26,"p":0.262,"E":-0.95},{"n":26,"p":0.524,"E":-1.36},{"n":26,"p":1.047,"E":-2.15},{"n":26,"p":1.571,"E":-2.54},{"n":26,"p":2.094,"E":-2.48},{"n":26,"p":2.618,"E":-2.12},{"n":26,"p":3.142,"E":-1.9},
{"n":27,"p":-3.142,"E":-1.83},{"n":27,"p":-2.618,"E":-2.06},{"n":27,"p":-2.094,"E":-2.43},{"n":27,"p":-1.571,"E":-2.51},{"n":27,"p":-1.047,"E":-2.13},{"n":27,"p":-0.524,"E":-1.35},{"n":27,"p":-0.262,"E":-0.94},{"n":27,"p":0,"E":-0.73},{"n":27,"p":0.262,"E":-0.94},{"n":27,"p":0.524,"E":-1.35},{"n":27,"p":1.047,"E":-2.13},{"n":27,"p":1.571,"E":-2.51},{"n":27,"p":2.094,"E":-2.43},{"n":27,"p":2.618,"E":-2.06},{"n":27,"p":3.142,"E":-1.83},
{"n":28,"p":-3.142,"E":-1.77},{"n":28,"p":-2.618,"E":-2.01},{"n":28,"p":-2.094,"E":-2.4},{"n":28,"p":-1.571,"E":-2.49},{"n":28,"p":-1.047,"E":-2.11},{"n":28,"p":-0.524,"E":-1.34},{"n":28,"p":-0.262,"E":-0.93},{"n":28,"p":0,"E":-0.72},{"n":28,"p":0.262,"E":-0.93},{"n":28,"p":0.524,"E":-1.34},{"n":28,"p":1.047,"E":-2.11},{"n":28,"p":1.571,"E":-2.49},{"n":28,"p":2.094,"E":-2.4},{"n":28,"p":2.618,"E":-2.01},{"n":28,"p":3.142,"E":-1.77},
{"n":29,"p":-3.142,"E":-1.72},{"n":29,"p":-2.618,"E":-1.97},{"n":29,"p":-2.094,"E":-2.38},{"n":29,"p":-1.571,"E":-2.48},{"n":29,"p":-1.047,"E":-2.1},{"n":29,"p":-0.524,"E":-1.33},{"n":29,"p":-0.262,"E":-0.92},{"n":29,"p":0,"E":-0.72},{"n":29,"p":0.262,"E":-0.92},{"n":29,"p":0.524,"E":-1.33},{"n":29,"p":1.047,"E":-2.1},{"n":29,"p":1.571,"E":-2.48},{"n":29,"p":2.094,"E":-2.38},{"n":29,"p":2.618,"E":-1.97},{"n":29,"p":3.142,"E":-1.72},
{"n":30,"p":-3.142,"E":-1.69},{"n":30,"p":-2.618,"E":-1.95},{"n":30,"p":-2.094,"E":-2.36},{"n":30,"p":-1.571,"E":-2.47},{"n":30,"p":-1.047,"E":-2.1},{"n":30,"p":-0.524,"E":-1.33},{"n":30,"p":-0.262,"E":-0.92},{"n":30,"p":0,"E":-0.72},{"n":30,"p":0.262,"E":-0.92},{"n":30,"p":0.524,"E":-1.33},{"n":30,"p":1.047,"E":-2.1},{"n":30,"p":1.571,"E":-2.47},{"n":30,"p":2.094,"E":-2.36},{"n":30,"p":2.618,"E":-1.95},{"n":30,"p":3.142,"E":-1.69}
],
"edgeLeft":[
{"p":-3.142,"E":1.69},{"p":-2.88,"E":1.76},{"p":-2.618,"E":1.94},{"p":-2.356,"E":2.17},{"p":-2.094,"E":2.36},{"p":-1.833,"E":2.46},{"p":-1.571,"E":2.46},{"p":-1.309,"E":2.34},{"p":-1.155,"E":2.21},{"p":-1.047,"E":2.09},{"p":-0.785,"E":1.71},{"p":-0.524,"E":1.21},{"p":-0.262,"E":0.62},{"p":0,"E":0},{"p":0.262,"E":-0.62},{"p":0.524,"E":-1.21},{"p":0.785,"E":-1.71},{"p":1.047,"E":-2.09},{"p":1.155,"E":-2.21},{"p":1.309,"E":-2.34},{"p":1.571,"E":-2.46},{"p":1.833,"E":-2.46},{"p":2.094,"E":-2.36},{"p":2.356,"E":-2.17},{"p":2.618,"E":-1.94},{"p":2.88,"E":-1.76},{"p":3.142,"E":-1.69}
],
"edgeRight":[
{"p":-3.142,"E":-1.69},{"p":-2.88,"E":-1.76},{"p":-2.618,"E":-1.94},{"p":-2.356,"E":-2.17},{"p":-2.094,"E":-2.36},{"p":-1.833,"E":-2.46},{"p":-1.571,"E":-2.46},{"p":-1.309,"E":-2.34},{"p":-1.155,"E":-2.21},{"p":-1.047,"E":-2.09},{"p":-0.785,"E":-1.71},{"p":-0.524,"E":-1.21},{"p":-0.262,"E":-0.62},{"p":0,"E":0},{"p":0.262,"E":0.62},{"p":0.524,"E":1.21},{"p":0.785,"E":1.71},{"p":1.047,"E":2.09},{"p":1.155,"E":2.21},{"p":1.309,"E":2.34},{"p":1.571,"E":2.46},{"p":1.833,"E":2.46},{"p":2.094,"E":2.36},{"p":2.356,"E":2.17},{"p":2.618,"E":1.94},{"p":2.88,"E":1.76},{"p":3.142,"E":1.69}
]
},
"resolve":{"axis":{"x":"independent"}},
"layer":[
{"data":{"name":"upper"},
 "mark":{"type":"line","strokeWidth":3.4,"interpolate":"natural"},
 "encoding":{
  "x":{"field":"p","type":"quantitative","scale":{"domain":[-3.27,3.265],"nice":false,"zero":false},
   "axis":{"orient":"top","offset":-559,"domain":false,"grid":false,"labels":false,"title":null,"ticks":true,"tickSize":7,"tickColor":"#8c8c8c","tickWidth":1.3,"values":[-3.14159,-1.5708,1.5708,3.14159]}},
  "y":{"field":"E","type":"quantitative","scale":{"domain":[-4.524,4.565],"nice":false,"zero":false},"axis":null},
  "color":{"field":"n","type":"ordinal","legend":null,
   "scale":{"domain":[1,2,3,4,5,6,7,8,9,10,11,12,13,14,15,16,17,18,19,20,21,22,23,24,25,26,27,28,29,30],
    "range":["#5E81B5","#E19C24","#8FB032","#EB6235","#8778B3","#C56E1A","#5D9EC7","#FFBF00","#A5609D","#929600","#E95536","#6685D9","#F89F13","#BC5B80","#47B66D","#5E81B5","#E19C24","#8FB032","#EB6235","#8778B3","#C56E1A","#5D9EC7","#FFBF00","#A5609D","#929600","#E95536","#6685D9","#F89F13","#BC5B80","#47B66D"]}}
 }},
{"data":{"name":"lower"},
 "mark":{"type":"line","strokeWidth":3.4,"interpolate":"natural"},
 "encoding":{
  "x":{"field":"p","type":"quantitative","axis":null},
  "y":{"field":"E","type":"quantitative","axis":null},
  "color":{"field":"n","type":"ordinal","legend":null}
 }},
{"data":{"name":"edgeLeft"},
 "mark":{"type":"line","strokeWidth":2.6,"color":"#5E81B5","interpolate":"natural"},
 "encoding":{
  "x":{"field":"p","type":"quantitative",
   "axis":{"orient":"bottom","offset":-554,"domain":false,"grid":false,"ticks":false,"tickSize":0,"title":null,
    "values":[-3.14159,-1.5708,1.5708,3.14159],
    "labelExpr":"datum.value < -2 ? ['', '−π'] : datum.value < 0 ? ['π', '−—', '2'] : datum.value < 2 ? ['π', '—', '2'] : ['', 'π']",
    "labelAlign":{"condition":{"test":"datum.value > -2 && datum.value < 0","value":"right"},"value":"center"},
    "labelOffset":{"condition":{"test":"datum.value > -2 && datum.value < 0","value":27},"value":0},
    "labelFont":"Liberation Sans","labelFontWeight":"bold","labelFontStyle":"italic","labelFontSize":40,
    "labelColor":"#4000FF","labelBaseline":"middle","labelLineHeight":38.5,"labelPadding":19.5,
    "labelOverlap":false,"labelFlush":false,"labelBound":false}},
  "y":{"field":"E","type":"quantitative","axis":null}
 }},
{"data":{"name":"edgeRight"},
 "mark":{"type":"line","strokeWidth":2.6,"color":"#47B66D","interpolate":"natural"},
 "encoding":{
  "x":{"field":"p","type":"quantitative","axis":null},
  "y":{"field":"E","type":"quantitative","axis":null}
 }},
{"data":{"values":[{}]},
 "mark":{"type":"rule","color":"#8c8c8c","strokeWidth":1.4},
 "encoding":{"x":{"datum":0,"axis":null}}},
{"data":{"values":[{}]},
 "mark":{"type":"rule","color":"#8c8c8c","strokeWidth":1.4},
 "encoding":{"y":{"datum":0,"axis":null}}},
{"data":{"values":[{}]},
 "mark":{"type":"text","text":"E","font":"Liberation Sans","fontWeight":"bold","fontSize":42,"color":"#4000FF","align":"center","baseline":"alphabetic"},
 "encoding":{"x":{"datum":0,"axis":null},"y":{"datum":4.772,"axis":null}}},
{"data":{"values":[{}]},
 "mark":{"type":"text","text":"p","font":"Liberation Sans","fontWeight":"bold","fontStyle":"italic","fontSize":45,"color":"#4000FF","align":"left","baseline":"alphabetic"},
 "encoding":{"x":{"datum":3.338,"axis":null},"y":{"datum":-0.096,"axis":null}}},
{"data":{"values":[{}]},
 "mark":{"type":"text","text":"LH","font":"Open Sans","fontSize":84,"color":"black","align":"center","baseline":"alphabetic"},
 "encoding":{"x":{"datum":-0.767,"axis":null},"y":{"datum":0.237,"axis":null}}},
{"data":{"values":[{}]},
 "mark":{"type":"text","text":"RH","font":"Open Sans","fontSize":84,"color":"black","align":"center","baseline":"alphabetic"},
 "encoding":{"x":{"datum":0.671,"axis":null},"y":{"datum":0.237,"axis":null}}},
{"data":{"values":[{}]},
 "mark":{"type":"text","text":"S","font":"Open Sans","fontWeight":"bold","fontSize":84,"color":"black","align":"right","baseline":"alphabetic"},
 "encoding":{"x":{"datum":-3.322,"axis":null},"y":{"datum":-4.189,"axis":null}}}
]
}
